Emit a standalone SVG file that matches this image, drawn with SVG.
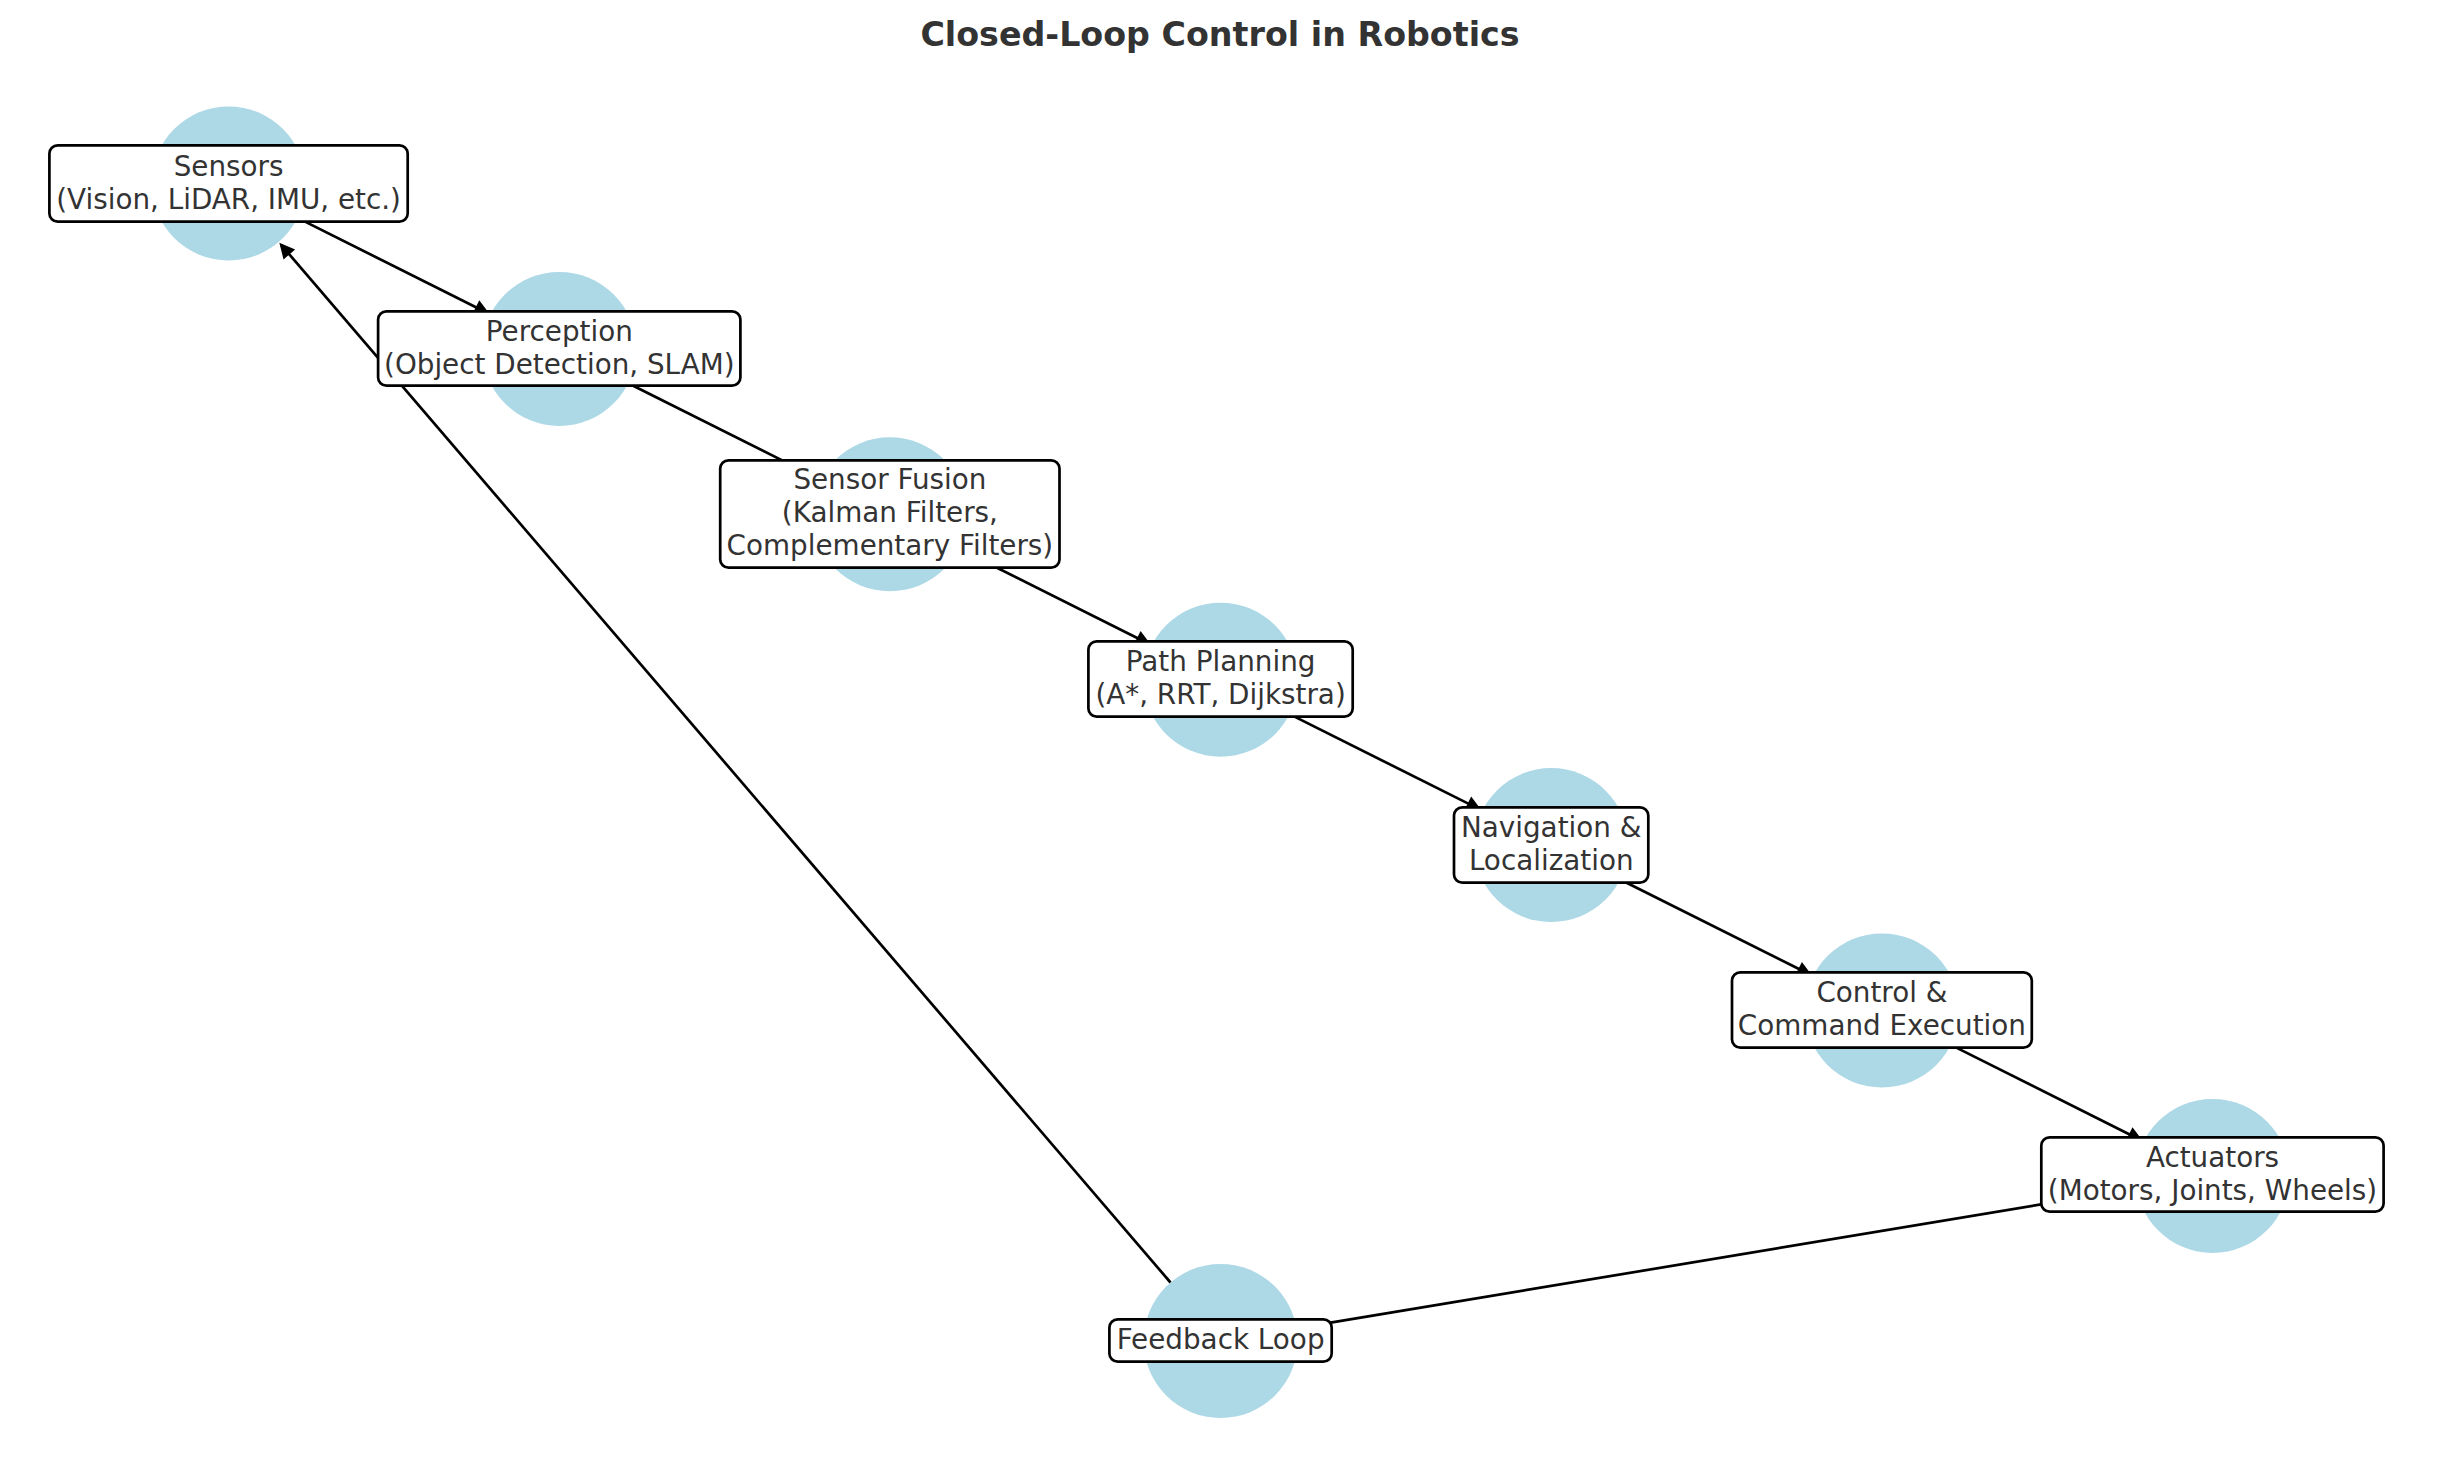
<svg xmlns="http://www.w3.org/2000/svg" width="2440" height="1482" viewBox="0 0 2440 1482">
<style>
.bg{fill:#ffffff}
.node{fill:#ADD8E6}
.box{fill:#ffffff;stroke:#000000;stroke-width:2.7}
.lbl{font-family:"DejaVu Sans","Liberation Sans",sans-serif;font-size:27.8px;fill:#333333;text-anchor:middle}
.title{font-family:"DejaVu Sans","Liberation Sans",sans-serif;font-size:33.3px;font-weight:bold;fill:#333333;text-anchor:middle}
.edge{stroke:#000000;stroke-width:2.7;fill:none}
</style>
<defs>
<marker id="arr" markerUnits="userSpaceOnUse" markerWidth="40" markerHeight="40" refX="0" refY="0" viewBox="-20 -20 40 40" orient="auto" overflow="visible">
<path d="M-11,-5.5 L0,0 L-11,5.5 Z" fill="#000000" stroke="#000000" stroke-width="2.7" stroke-linejoin="miter"/>
</marker>
</defs>
<rect class="bg" x="0" y="0" width="2440" height="1482"/>
<text class="title" x="1220" y="46">Closed-Loop Control in Robotics</text>
<g id="circles">
<circle class="node" cx="228.6" cy="183.5" r="77"/>
<circle class="node" cx="559.3" cy="348.9" r="77"/>
<circle class="node" cx="889.9" cy="514.3" r="77"/>
<circle class="node" cx="1220.6" cy="679.7" r="77"/>
<circle class="node" cx="1551.2" cy="845.1" r="77"/>
<circle class="node" cx="1881.9" cy="1010.5" r="77"/>
<circle class="node" cx="2212.5" cy="1175.9" r="77"/>
<circle class="node" cx="1220.6" cy="1341" r="77"/>
</g>
<g id="connectors">
<line class="edge" x1="297.5" y1="217.9" x2="486.9" y2="312.7" marker-end="url(#arr)"/>
<line class="edge" x1="628.2" y1="383.3" x2="817.5" y2="478.1" marker-end="url(#arr)"/>
<line class="edge" x1="958.8" y1="548.7" x2="1148.2" y2="643.5" marker-end="url(#arr)"/>
<line class="edge" x1="1289.5" y1="714.1" x2="1478.8" y2="808.9" marker-end="url(#arr)"/>
<line class="edge" x1="1620.1" y1="879.5" x2="1809.5" y2="974.3" marker-end="url(#arr)"/>
<line class="edge" x1="1950.8" y1="1044.9" x2="2140.1" y2="1139.7" marker-end="url(#arr)"/>
<line class="edge" x1="2136.5" y1="1188.5" x2="1300.5" y2="1327.7" marker-end="url(#arr)"/>
<line class="edge" x1="1170.5" y1="1282.5" x2="281.3" y2="245" marker-end="url(#arr)"/>
</g>
<g id="node-sensors">
<rect class="box" x="49.4" y="145.3" width="358.3" height="76.4" rx="8.3"/>
<text class="lbl" x="228.6" y="176">Sensors</text>
<text class="lbl" x="228.6" y="209">(Vision, LiDAR, IMU, etc.)</text>
</g>
<g id="node-perception">
<rect class="box" x="378.1" y="311.3" width="362.3" height="74.4" rx="8.3"/>
<text class="lbl" x="559.3" y="340.5">Perception</text>
<text class="lbl" x="559.3" y="373.5">(Object Detection, SLAM)</text>
</g>
<g id="node-fusion">
<rect class="box" x="720.2" y="460.3" width="339.3" height="107.4" rx="8.3"/>
<text class="lbl" x="889.9" y="489">Sensor Fusion</text>
<text class="lbl" x="889.9" y="522">(Kalman Filters,</text>
<text class="lbl" x="889.9" y="555">Complementary Filters)</text>
</g>
<g id="node-path">
<rect class="box" x="1088.4" y="641.3" width="264.3" height="75.4" rx="8.3"/>
<text class="lbl" x="1220.6" y="671">Path Planning</text>
<text class="lbl" x="1220.6" y="704">(A*, RRT, Dijkstra)</text>
</g>
<g id="node-navigation">
<rect class="box" x="1454" y="807.3" width="194.3" height="75.4" rx="8.3"/>
<text class="lbl" x="1551.2" y="837">Navigation &amp;</text>
<text class="lbl" x="1551.2" y="870">Localization</text>
</g>
<g id="node-control">
<rect class="box" x="1732" y="972.3" width="299.8" height="75.4" rx="8.3"/>
<text class="lbl" x="1881.9" y="1002">Control &amp;</text>
<text class="lbl" x="1881.9" y="1035">Command Execution</text>
</g>
<g id="node-actuators">
<rect class="box" x="2041.3" y="1137.3" width="342.3" height="74.4" rx="8.3"/>
<text class="lbl" x="2212.5" y="1166.5">Actuators</text>
<text class="lbl" x="2212.5" y="1199.5">(Motors, Joints, Wheels)</text>
</g>
<g id="node-feedback">
<rect class="box" x="1109.4" y="1319.3" width="222.3" height="42.4" rx="8.3"/>
<text class="lbl" x="1220.6" y="1348.5">Feedback Loop</text>
</g>
</svg>
